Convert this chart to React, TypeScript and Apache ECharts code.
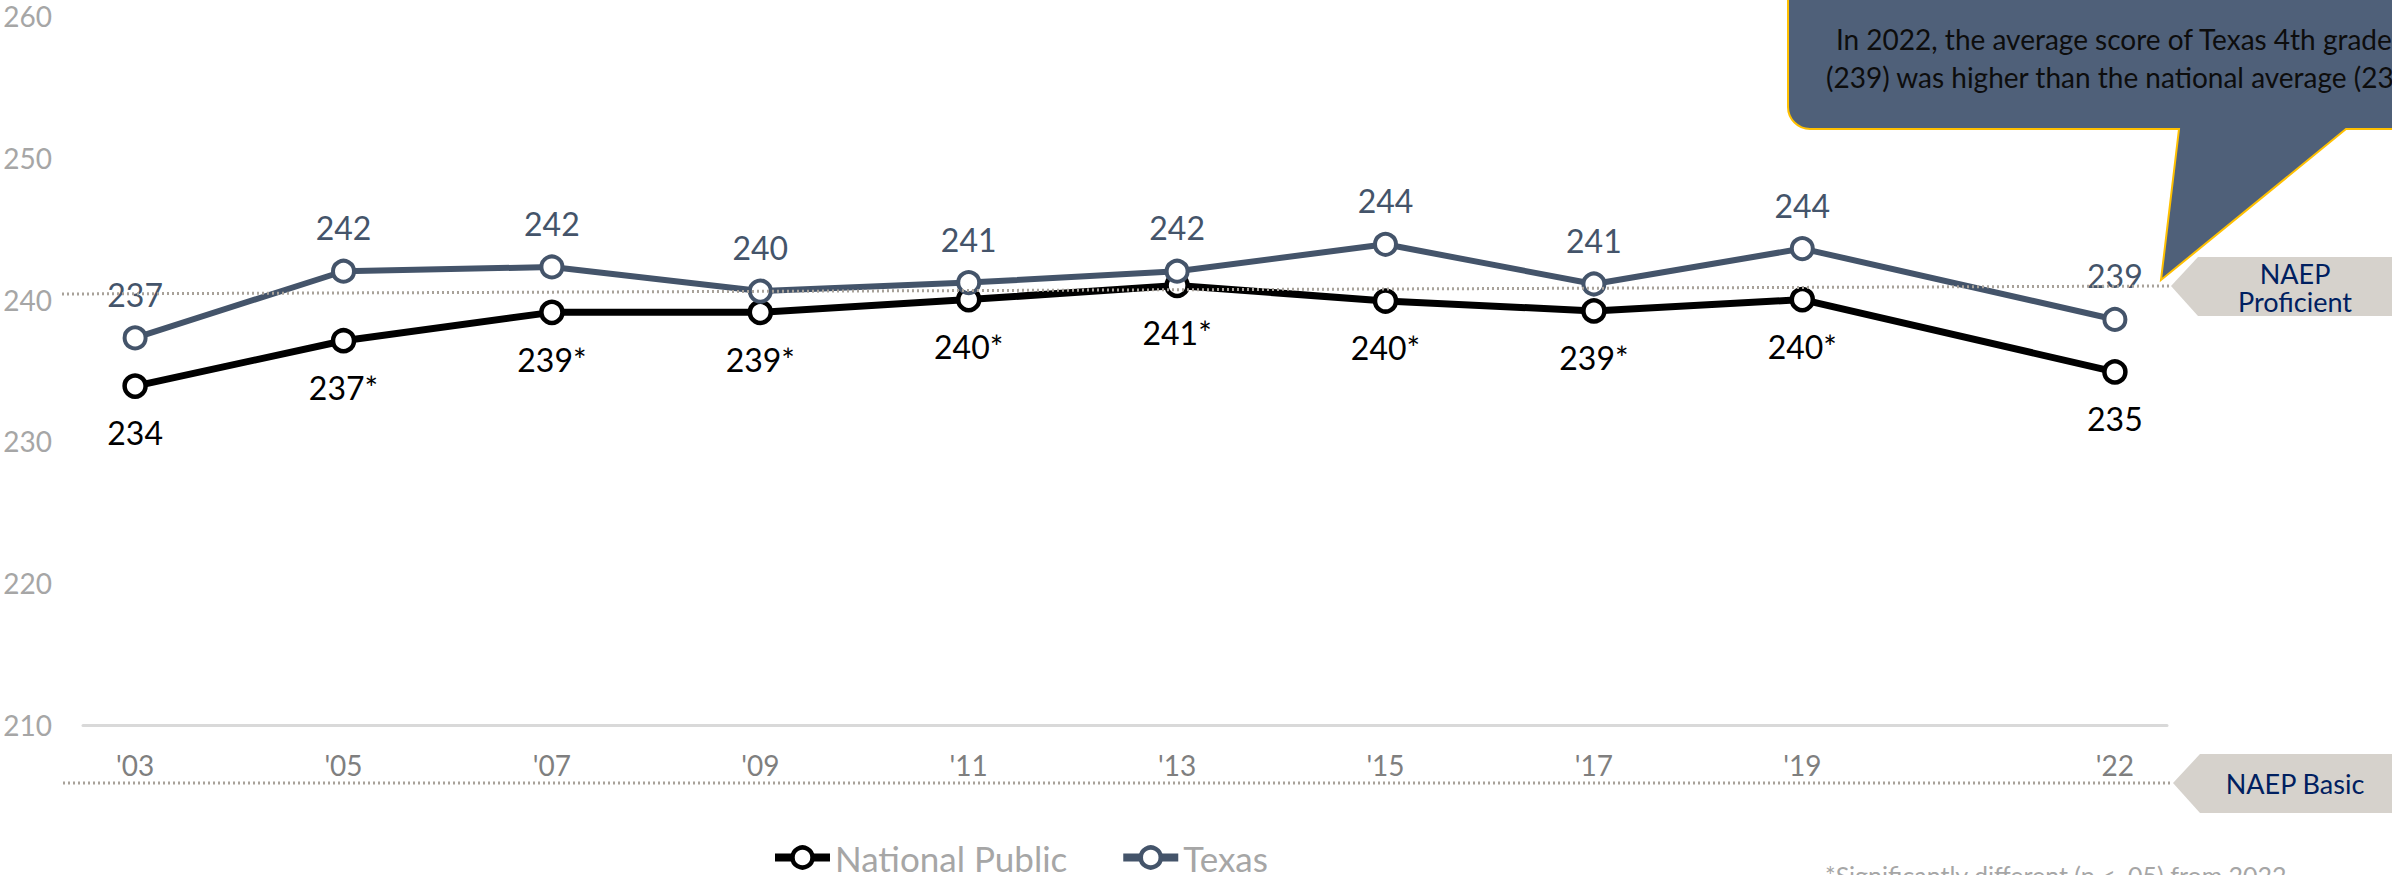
import React, { useEffect, useRef } from "react";
import * as echarts from "echarts";

const years = [2003, 2005, 2007, 2009, 2011, 2013, 2015, 2017, 2019, 2022];
const nationalScores = [233.9, 237.1, 239.1, 239.1, 240.0, 241.0, 239.9, 239.2, 240.0, 234.9];
const texasScores = [237.3, 242.0, 242.3, 240.6, 241.2, 242.0, 243.9, 241.1, 243.6, 238.6];
const nationalLabels = ["234", "237*", "239*", "239*", "240*", "241*", "240*", "239*", "240*", "235"];
const texasLabels = ["237", "242", "242", "240", "241", "242", "244", "241", "244", "239"];
const seriesNames = ["National Public", "Texas"];
const yMin = 210;
const yMax = 260;
const yStep = 10;
const calloutLines = [
  "In 2022, the average score of Texas 4th graders",
  "(239) was higher than the national average (235).",
];
const proficientText = "NAEP\nProficient";
const basicText = "NAEP Basic";
const footnote = "*Significantly different (p < .05) from 2022";

const FONT = "Lato, 'Open Sans', sans-serif";
const TEXAS = "#44546A";
const NATIONAL = "#000000";

const calloutD =
  "M1788 -40 L1788 107 C1788 119 1798 129 1810 129 L2179 129 L2161 280 L2346 129 L2600 129 L2600 -40 Z";
let registered = false;
function ensureShapes() {
  if (registered) return;
  echarts.graphic.registerShape("callout", echarts.graphic.extendPath(calloutD, {}) as any);
  registered = true;
}

export default function App() {
  const ref = useRef<HTMLDivElement>(null);
  useEffect(() => {
    ensureShapes();
    const chart = echarts.init(ref.current!, null, { renderer: "svg" });
    const nationalData = years.map((y, i) => [y, nationalScores[i]]);
    const texasData = years.map((y, i) => [y, texasScores[i]]);
    const option: any = {
      animation: false,
      backgroundColor: "#ffffff",
      grid: { left: 83, right: 225, top: 16, bottom: 150, containLabel: false },
      xAxis: {
        type: "value",
        min: years[0] - 0.5,
        max: years[years.length - 1] + 0.5,
        splitLine: { show: false },
        axisTick: { show: false },
        axisLine: { show: true, lineStyle: { color: "#D9D9D9", width: 3 } },
        axisLabel: {
          customValues: years,
          formatter: (v: number) => "'" + String(Math.round(v)).slice(2),
          color: "#7F7F7F",
          fontSize: 28,
          fontFamily: FONT,
          margin: 26,
        },
      },
      yAxis: {
        type: "value",
        min: yMin,
        max: yMax,
        interval: yStep,
        splitLine: { show: false },
        axisTick: { show: false },
        axisLine: { show: false },
        axisLabel: { color: "#A6A6A6", fontSize: 28, fontFamily: FONT, margin: 31 },
      },
      legend: {
        data: seriesNames,
        left: 771,
        top: 840,
        padding: 0,
        itemGap: 52,
        itemWidth: 55,
        itemHeight: 25,
        lineStyle: { width: 8 },
        itemStyle: { borderWidth: 4.5 },
        textStyle: { color: "#A6A6A6", fontSize: 35, fontFamily: FONT },
      },
      series: [
        {
          name: seriesNames[0],
          type: "line",
          data: nationalData,
          color: NATIONAL,
          lineStyle: { color: NATIONAL, width: 7 },
          symbol: "circle",
          symbolSize: 21,
          itemStyle: { color: "#ffffff", borderColor: NATIONAL, borderWidth: 4.5 },
          label: {
            show: true,
            position: "bottom",
            distance: 18,
            color: NATIONAL,
            fontSize: 32,
            fontFamily: FONT,
            formatter: (p: any) => nationalLabels[p.dataIndex],
          },
          z: 2,
        },
        {
          name: seriesNames[1],
          type: "line",
          data: texasData,
          color: TEXAS,
          lineStyle: { color: TEXAS, width: 6 },
          symbol: "circle",
          symbolSize: 21,
          itemStyle: { color: "#ffffff", borderColor: TEXAS, borderWidth: 4 },
          label: {
            show: true,
            position: "top",
            distance: 15,
            color: TEXAS,
            fontSize: 32,
            fontFamily: FONT,
            formatter: (p: any) => texasLabels[p.dataIndex],
          },
          z: 3,
        },
      ],
      graphic: [
        {
          type: "line",
          z: 100,
          shape: { x1: 62, y1: 294, x2: 2171, y2: 286 },
          style: { stroke: "#A8A29A", lineWidth: 3, lineDash: [2, 3] },
        },
        {
          type: "line",
          z: 100,
          shape: { x1: 63, y1: 783, x2: 2173, y2: 783 },
          style: { stroke: "#A8A29A", lineWidth: 3, lineDash: [2, 3] },
        },
        {
          type: "polygon",
          z: 101,
          shape: { points: [[2171, 286], [2198, 257], [2392, 257], [2392, 316], [2198, 316]] },
          style: { fill: "#D6D2CC" },
        },
        {
          type: "polygon",
          z: 101,
          shape: { points: [[2173, 783], [2200, 754], [2392, 754], [2392, 813], [2200, 813]] },
          style: { fill: "#D6D2CC" },
        },
        {
          type: "text",
          z: 102,
          x: 2295,
          y: 287,
          style: {
            text: proficientText,
            fill: "#002060",
            fontSize: 27,
            fontFamily: FONT,
            lineHeight: 28,
            align: "center",
            verticalAlign: "middle",
            textAlign: "center",
            textVerticalAlign: "middle",
          },
        },
        {
          type: "text",
          z: 102,
          x: 2295,
          y: 783,
          style: {
            text: basicText,
            fill: "#002060",
            fontSize: 27,
            fontFamily: FONT,
            align: "center",
            verticalAlign: "middle",
            textAlign: "center",
            textVerticalAlign: "middle",
          },
        },
        {
          type: "callout",
          z: 110,
          x: 0,
          y: 0,
          scaleX: 1,
          scaleY: 1,
          style: { fill: "#4F6079", stroke: "#FFC000", lineWidth: 2 },
        },
        {
          type: "text",
          z: 111,
          x: 2125,
          y: 39,
          style: {
            text: calloutLines[0],
            fill: "#0D0D0D",
            fontSize: 28,
            fontFamily: FONT,
            align: "center",
            verticalAlign: "middle",
            textAlign: "center",
            textVerticalAlign: "middle",
          },
        },
        {
          type: "text",
          z: 111,
          x: 2125,
          y: 77,
          style: {
            text: calloutLines[1],
            fill: "#0D0D0D",
            fontSize: 28,
            fontFamily: FONT,
            align: "center",
            verticalAlign: "middle",
            textAlign: "center",
            textVerticalAlign: "middle",
          },
        },
        {
          type: "text",
          z: 100,
          x: 1825,
          y: 862,
          style: {
            text: footnote,
            fill: "#A6A6A6",
            fontSize: 25,
            fontFamily: FONT,
            align: "left",
            verticalAlign: "top",
            textAlign: "left",
            textVerticalAlign: "top",
          },
        },
      ],
    };
    chart.setOption(option);
    return () => chart.dispose();
  }, []);
  return (
    <div
      ref={ref}
      style={{ position: "fixed", left: 0, top: 0, width: 2392, height: 875, background: "#fff" }}
    />
  );
}
